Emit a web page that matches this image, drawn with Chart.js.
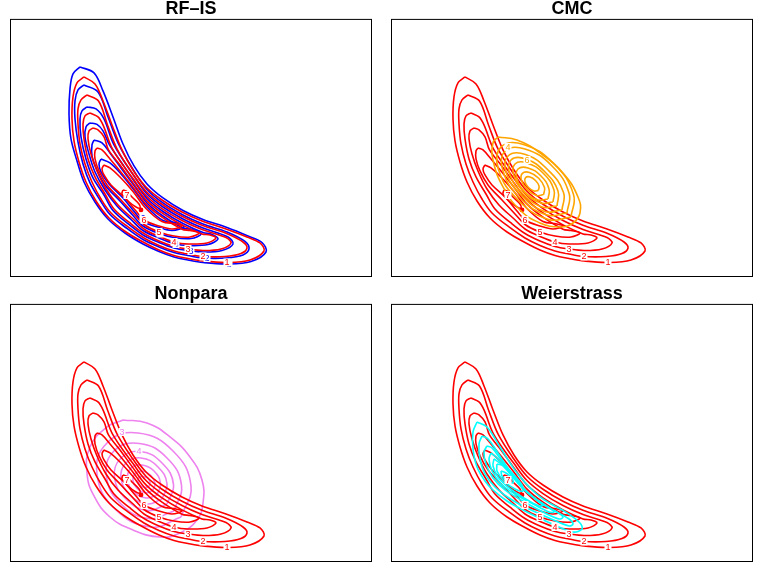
<!DOCTYPE html>
<html>
<head>
<meta charset="utf-8">
<script src="https://cdn.jsdelivr.net/npm/chart.js@4.4.1/dist/chart.umd.min.js"></script>
<style>
  body { margin: 0; background: #fff; }
  #wrap { position: relative; width: 763px; height: 572px; }
  canvas { position: absolute; }
</style>
</head>
<body>
<div id="wrap">
  <canvas id="p1" width="364" height="278" style="left:9px;top:0px"></canvas>
  <canvas id="p2" width="364" height="278" style="left:390px;top:0px"></canvas>
  <canvas id="p3" width="364" height="278" style="left:9px;top:285px"></canvas>
  <canvas id="p4" width="364" height="278" style="left:390px;top:285px"></canvas>
</div>
<script>
// titles of the four panels
const titles = ['RF\u2013IS', 'CMC', 'Nonpara', 'Weierstrass'];

// target density, red contours (levels 1..7) - same in every panel
const red1 = [[74,58],[67,64],[63,78],[62,100],[64,122],[69,143],[76,163],[86,182],[99,199],[116,213],[134,223.5],[149,231],[164,236.5],[178,239.5],[193,242],[217,243.5],[240,241],[254,232],[250,224],[237,218],[216,210],[192,202],[172,193],[152,181],[136,168],[123,151],[112,131],[102,106],[93,82],[85,65],[74,58]];
const red2 = [[77,76],[71,81],[68,90],[68,105],[70,125],[75,145],[82,163],[91,180],[101,194],[118,208],[134,219],[149,226.5],[164,232],[178,235],[193,237.5],[215,237.5],[231,234.5],[237,229],[233,223],[216,214.3],[192,206.3],[172,197.3],[152,185.3],[136,172.3],[123,155.3],[107.5,131],[97.5,106],[88.5,82],[77,76]];
const red3 = [[80,94],[75,97],[73,105],[74,120],[78,140],[85,158],[95,175],[104,190],[120,204],[134,214.5],[149,222],[164,227.5],[178,230],[193,231.5],[211,230],[221,224],[216,218.6],[192,210.6],[172,201.6],[152,189.6],[136,176.6],[123,159.6],[103,131],[93,106],[88,98],[80,94]];
const red4 = [[83,109],[79,112],[78,120],[81,135],[87,152],[96,170],[108,186],[122,199],[134,210],[149,217.5],[164,223],[178,225],[197,224],[206,219],[200,216],[192,214.9],[172,205.9],[152,193.9],[136,180.9],[123,163.9],[110,146],[98.5,131],[94,118],[88,111],[83,109]];
const red5 = [[87,129],[85,132],[85,140],[89,152],[97,166],[111,181],[124,195],[134,205.5],[149,213],[164,217],[180,218],[189,214],[180,211.5],[172,210.2],[152,198.2],[136,185.2],[123,168.2],[110,152],[100,140],[92,131],[87,129]];
const red6 = [[94,146],[92,150],[94,156],[101,166],[114,178],[126,192],[134,201],[149,207],[162,210],[172,207],[166,205],[152,202.5],[136,189.5],[123,172.5],[110,158],[100,149],[94,146]];
const red7 = [[113,171],[112,175],[118,182],[126,188],[130,189],[129,185],[122,178],[116,172],[113,171]];
const redPeak = [[131,191]];
const redLabels = [['1',217,243.5],['2',193,237.5],['3',178,230],['4',164,223],['5',149,213],['6',134,201],['7',117,176]];

// RF-IS estimate, blue contours
const blue1 = [[70,48],[63,55],[60,70],[59,95],[61,120],[67,142],[74,163],[85,183],[98,200],[115,214],[133,225],[149,232.5],[164,238],[178,241],[193,243.5],[217,245],[241,242.5],[256,233],[252,223.5],[238,217],[217,208.5],[193,200.5],[173,191.5],[153,179],[137,165],[124,147],[113,125],[103,98],[93,72],[84,54],[70,48]];
const blue2 = [[74,66],[68,71],[65,82],[65,100],[68,123],[73,145],[80,164],[90,181],[100,195.5],[117,209.5],[133,220.5],[149,228],[164,233.5],[178,236.5],[193,239],[216,239],[233,236],[239,230],[235,222.5],[217,213],[193,205],[173,196],[153,184],[137,170.5],[124,152],[108.5,125],[98,98],[88,73],[74,66]];
const blue3 = [[77,88],[72,92],[70,100],[71,118],[76,140],[83,159],[94,176],[103,191.5],[119,205.5],[133,216],[149,223.5],[164,229],[178,231.5],[193,233],[212,231.5],[223,225],[218,218],[193,209],[173,200],[153,188],[137,175],[124,157],[104,126],[94,100],[86,90],[77,88]];
const blue4 = [[80,104],[76,108],[75,118],[79,135],[85,153],[95,171],[107,187],[121,200.5],[133,211.5],[149,219],[164,224.5],[178,226.5],[198,225.5],[208,220],[202,215.5],[193,213.5],[173,204.5],[153,192.5],[137,179.5],[124,162],[111,143],[99.5,126],[93,112],[87,105.5],[80,104]];
const blue5 = [[84,121],[82,126],[82,137],[87,151],[95,166],[110,182],[123,196.5],[133,207],[149,214.5],[164,218.5],[181,219.5],[191,215],[182,210.5],[173,209],[153,197],[137,184],[124,166.5],[111,149],[100,134],[92,124],[84,121]];
const blue6 = [[91,140],[89,145],[91,153],[99,165],[113,179],[125,193.5],[133,202.5],[149,208.5],[162,211.5],[174,208],[167,204],[153,201.5],[137,188],[124,171],[111,155],[100,144],[91,140]];
const blueLabels = [['1',219,245],['2',197,239],['3',181,232],['4',166,225],['5',150,214.5],['6',133,199]];

// CMC estimate, orange contours
const orange1 = [[107,118],[126,121],[149,134],[172,154],[187,178],[189,194],[182,204],[169,208],[149,204],[129,191],[112,168],[102,141],[102,124],[107,118]];
const orange2 = [[180,198],[182.5,175.5],[163,145],[132.5,125.5],[110,128],[107.5,150.5],[127,181],[157.5,200.5],[180,198]];
const orange3 = [[176,194],[178,174],[161,147],[134,130],[114,132],[112,152],[129,179],[156,196],[176,194]];
const orange4 = [[171,191],[172.5,173.5],[157,151],[134.5,135.5],[117,137],[115.5,154.5],[131,177],[153.5,192.5],[171,191]];
const orange5 = [[166,187],[167,172],[154,153],[135,140],[120,141],[119,156],[132,175],[151,188],[166,187]];
const orange6 = [[162,183],[163,171],[152.5,154.5],[136,144],[124,145],[123,157],[133.5,173.5],[150,184],[162,183]];
const orange7 = [[157,180],[158,170],[150,157],[137,149],[127,150],[126,160],[134,173],[147,181],[157,180]];
const orange8 = [[152.6,175.6],[153.5,168.5],[147.7,159.3],[138.5,153.5],[131.4,154.4],[130.5,161.5],[136.3,170.7],[145.5,176.5],[152.6,175.6]];
const orange9 = [[147.4,171.4],[148,167],[144.5,161.5],[139,158],[134.6,158.6],[134,163],[137.5,168.5],[143,172],[147.4,171.4]];
const orangeLabels = [['4',117,128],['6',136,141]];

// Nonpara estimate, violet contours
const violet1 = [[113,116],[137,119],[160,133],[180,153],[192,176],[193,199],[187,216],[170,229],[150,233],[123,226],[100,213],[84,192],[77,169],[80,143],[97,123],[113,116]];
const violet2 = [[171,213],[181,182],[163,147],[128,129],[97,139],[87,170],[105,205],[141,223],[171,213]];
const violet3 = [[164,207],[171.5,181.5],[157,154],[129.5,139.5],[104,147],[96.5,172.5],[111,200],[138.5,214.5],[164,207]];
const violet4 = [[157,200],[163.5,180.5],[152,159],[130.5,147.5],[111,154],[104.5,173.5],[116,195],[137.5,206.5],[157,200]];
const violet5 = [[152,195],[157,180],[148,163],[131,154],[116,159],[111,174],[120,191],[137,200],[152,195]];
const violet6 = [[147,191],[150.5,179.5],[144,167],[132,161],[121,164],[117.5,176],[124,188],[136,194],[147,191]];
const violet7 = [[142.6,186.6],[145,179.5],[140.7,171.3],[132.6,167.1],[125.4,169.4],[123,176.6],[127.3,184.7],[135.3,188.9],[142.6,186.6]];
const violet8 = [[138.8,182.8],[140,178.7],[137.7,174.3],[133.2,172.6],[129.2,173.2],[128,177.3],[130.3,181.7],[134.8,183.4],[138.8,182.8]];
const violetLabels = [['3',112,128],['4',129,147]];

// Weierstrass estimate, cyan contours
const cyan1 = [[86,118],[82,128],[82,145],[86,163],[94,177],[102,186],[116,197],[132,206],[159,219],[182,228],[191,225],[189,219],[176,209],[149,193],[126,169],[109,143],[96,123],[86,118]];
const cyan2 = [[91,132],[88,140],[89,155],[94,170],[104,183],[118,194],[134,203],[158,214],[178,222],[182,220],[178,215],[155,202],[133,185],[118,166],[105,146],[97,135],[91,132]];
const cyan3 = [[96,142],[93,148],[95,160],[102,174],[114,186],[130,196],[150,207],[168,215],[172,213],[166,208],[148,198],[132,184],[120,168],[108,153],[101,144],[96,142]];
const cyan4 = [[100,149],[98,155],[101,167],[110,180],[124,190],[142,200],[158,208],[163,208],[157,203],[142,193],[128,180],[116,165],[106,154],[100,149]];
const cyan5 = [[103,155],[102,162],[107,173],[118,184],[133,194],[148,202],[152,201],[146,196],[132,185],[121,172],[111,161],[103,155]];
const cyan6 = [[106,160],[106,167],[113,177],[124,185],[132,187],[131,181],[123,171],[113,162],[106,160]];
const cyan7 = [[110,167],[111,172],[117,177],[122,179],[121,174],[115,169],[110,167]];

const redSet = [red1, red2, red3, red4, red5, red6, red7];

// border + contour labels
const boxPlugin = {
  id: 'box',
  afterDraw(chart) {
    const a = chart.chartArea, ctx = chart.ctx;
    ctx.save();
    ctx.strokeStyle = '#000';
    ctx.lineWidth = 1;
    ctx.strokeRect(a.left + 0.5, a.top + 0.5, a.right - a.left - 1, a.bottom - a.top - 1);
    ctx.restore();
  }
};

const labelPlugin = {
  id: 'contourLabels',
  afterDatasetsDraw(chart, args, opts) {
    const ctx = chart.ctx, xs = chart.scales.x, ys = chart.scales.y;
    ctx.save();
    ctx.font = '9px "Liberation Sans", Arial, sans-serif';
    ctx.textAlign = 'center';
    ctx.textBaseline = 'middle';
    (opts.sets || []).forEach(set => {
      set.items.forEach(([txt, x, y]) => {
        const px = xs.getPixelForValue(x), py = ys.getPixelForValue(y);
        const w = ctx.measureText(txt).width + 2;
        ctx.fillStyle = '#fff';
        ctx.fillRect(px - w / 2, py - 4, w, 8);
        ctx.fillStyle = set.color;
        ctx.fillText(txt, px, py + 0.5);
      });
    });
    ctx.restore();
  }
};

function makePanel(id, title, layers, labelSets) {
  // layers listed bottom -> top
  const datasets = [];
  layers.forEach(layer => {
    layer.curves.forEach(c => {
      datasets.push({
        data: c.map(p => ({ x: p[0], y: p[1] })),
        showLine: true,
        borderColor: layer.color,
        backgroundColor: layer.color,
        borderWidth: 1.6,
        pointRadius: layer.dot ? 1.6 : 0,
        tension: layer.tension || 0.35,
        fill: false
      });
    });
  });
  const n = datasets.length;
  datasets.forEach((d, i) => { d.order = n - i; });

  new Chart(document.getElementById(id), {
    type: 'scatter',
    data: { datasets },
    options: {
      responsive: false,
      animation: false,
      events: [],
      layout: { autoPadding: false, padding: { left: 1, right: 1, top: 0, bottom: 1 } },
      scales: {
        x: { display: false, min: 0, max: 362 },
        y: { display: false, min: 0, max: 258, reverse: true }
      },
      plugins: {
        legend: { display: false },
        tooltip: { enabled: false },
        title: {
          display: true,
          text: title,
          color: '#000',
          padding: 0,
          font: { family: '"Liberation Sans", Arial, sans-serif', size: 18, weight: 'bold', lineHeight: 1.05 }
        },
        contourLabels: { sets: labelSets }
      }
    },
    plugins: [boxPlugin, labelPlugin]
  });
}

const RED = '#FF0000';
makePanel('p1', titles[0], [
  { curves: [blue1, blue2, blue3, blue4, blue5, blue6], color: '#0000FF' },
  { curves: redSet, color: RED },
  { curves: [redPeak], color: RED, dot: true }
], [{ color: '#0000FF', items: blueLabels }, { color: RED, items: redLabels }]);

makePanel('p2', titles[1], [
  { curves: redSet, color: RED },
  { curves: [redPeak], color: RED, dot: true },
  { curves: [orange1, orange2, orange3, orange4, orange5, orange6, orange7, orange8, orange9], color: '#FFA500', tension: 0.45 }
], [{ color: RED, items: redLabels }, { color: '#FFA500', items: orangeLabels }]);

makePanel('p3', titles[2], [
  { curves: [violet1, violet2, violet3, violet4, violet5, violet6, violet7, violet8], color: '#EE82EE', tension: 0.45 },
  { curves: redSet, color: RED },
  { curves: [redPeak], color: RED, dot: true }
], [{ color: '#EE82EE', items: violetLabels }, { color: RED, items: redLabels }]);

makePanel('p4', titles[3], [
  { curves: redSet, color: RED },
  { curves: [redPeak], color: RED, dot: true },
  { curves: [cyan1, cyan2, cyan3, cyan4, cyan5, cyan6, cyan7], color: '#00FFFF' }
], [{ color: RED, items: redLabels }]);
</script>
</body>
</html>
